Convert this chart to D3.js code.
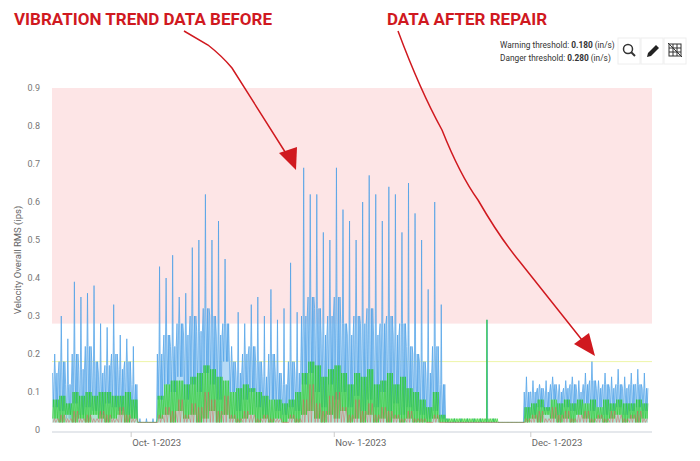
<!DOCTYPE html>
<html lang="en">
<head>
<meta charset="utf-8">
<title>Vibration trend</title>
<script src="https://d3js.org/d3.v7.min.js"></script>
<style>
body { margin: 0; background: #fff; }
text { font-family: Roboto, "Open Sans", sans-serif; }
</style>
</head>
<body>
<div id="chart"></div>
<script>
// daily values starting Sep 19 2023 (peak, body level and trough per day)
const startDay = new Date(2023, 8, 19);
const blueHi = [.20,.30,.24,.39,.35,.36,.38,.28,.27,.33,.25,.24,.22,
  .03,.03,.03,
  .43,.40,.46,.35,.36,.48,.50,.62,.50,.55,.45,.22,.31,.28,.33,.35,.30,.37,.29,.32,.44,.31,
  .69,.62,.62,.52,.50,.69,.58,.55,.50,.60,.67,.62,.55,.64,.62,.52,.65,.57,.50,.37,.60,.33,
  .03,.03,.03,.03,.03,.03,.29,.03,.02,.02,.02,.02,.14,
  .13,.12,.13,.14,.12,.13,.14,.13,.15,.18,.13,.15,.14,.16,.14,.15,.16,.15];
const blueMid = [.15,.18,.12,.20,.16,.22,.18,.15,.17,.20,.16,.18,.12,
  .02,.02,.02,
  .20,.25,.22,.28,.25,.30,.26,.32,.30,.25,.28,.18,.15,.20,.22,.18,.14,.20,.15,.12,.18,.15,
  .30,.35,.32,.25,.30,.35,.28,.25,.30,.28,.32,.25,.28,.30,.25,.28,.22,.20,.18,.15,.22,.12,
  .02,.02,.02,.02,.02,.02,.02,.02,.02,.02,.02,.02,.10,
  .10,.11,.10,.12,.10,.11,.12,.10,.12,.13,.11,.12,.11,.12,.11,.12,.12,.11];
const blueLo = [.06,.05,.03,.07,.04,.06,.05,.04,.07,.06,.05,.04,.03,
  .02,.02,.02,
  .08,.12,.10,.14,.08,.12,.10,.15,.12,.08,.18,.10,.05,.08,.10,.06,.04,.08,.05,.04,.06,.05,
  .12,.15,.10,.06,.12,.08,.10,.06,.09,.05,.08,.06,.10,.05,.07,.04,.06,.05,.04,.03,.05,.03,
  .02,.02,.02,.02,.02,.02,.02,.02,.02,.02,.02,.02,.03,
  .04,.06,.05,.08,.04,.06,.05,.04,.07,.05,.06,.04,.05,.06,.04,.05,.06,.05];
const greenHi = [.08,.09,.07,.10,.09,.10,.09,.10,.10,.09,.09,.10,.08,
  .02,.02,.02,
  .09,.12,.13,.13,.12,.14,.15,.17,.16,.14,.13,.10,.11,.12,.11,.10,.09,.08,.08,.07,.08,.10,
  .15,.18,.17,.14,.16,.17,.15,.12,.15,.14,.16,.12,.13,.15,.12,.14,.11,.10,.08,.06,.10,.04,
  .03,.03,.03,.03,.03,.03,.03,.03,.02,.02,.02,.02,.06,
  .07,.08,.06,.08,.07,.08,.07,.08,.07,.08,.06,.08,.07,.08,.07,.07,.08,.07];
const greenLo = [.03,.02,.04,.02,.03,.02,.04,.03,.02,.03,.04,.02,.03,
  .02,.02,.02,
  .03,.04,.02,.05,.03,.04,.02,.03,.05,.02,.04,.03,.02,.03,.04,.02,.03,.02,.03,.02,.03,.02,
  .04,.05,.03,.02,.04,.03,.05,.02,.03,.02,.04,.02,.03,.02,.03,.02,.03,.02,.02,.02,.03,.02,
  .02,.02,.02,.02,.02,.02,.02,.02,.02,.02,.02,.02,.02,
  .03,.02,.04,.03,.02,.03,.02,.04,.03,.02,.03,.02,.03,.04,.02,.03,.02,.03];
// single reading spike during the idle period
const spikeDates = [new Date(2023, 10, 24, 6), new Date(2023, 10, 24, 7), new Date(2023, 10, 24, 8)];
const spikeValues = [0.03, 0.29, 0.03];
const redHi = [.03,.04,.03,.05,.03,.04,.03,.05,.04,.03,.06,.04,.03,
  .02,.02,.02,
  .04,.06,.05,.08,.04,.07,.06,.10,.08,.05,.09,.04,.03,.05,.04,.03,.04,.03,.03,.02,.04,.03,
  .08,.12,.07,.05,.09,.10,.06,.04,.08,.05,.07,.04,.06,.05,.04,.03,.05,.03,.03,.02,.04,.02,
  .02,.02,.02,.02,.02,.02,.02,.02,.02,.02,.02,.02,.03,
  .04,.05,.03,.06,.04,.05,.03,.04,.05,.03,.04,.03,.05,.04,.03,.04,.05,.03];
const redLo = 0.02;
const yTicks = [0, .1, .2, .3, .4, .5, .6, .7, .8, .9];
const xTicks = [new Date(2023, 9, 1), new Date(2023, 10, 1), new Date(2023, 11, 1)];
const warning = 0.18, danger = 0.28;

const width = 700, height = 461;
const svg = d3.select("#chart").append("svg").attr("width", width).attr("height", height);

const x = d3.scaleTime()
  .domain([new Date(2023, 8, 18, 22), new Date(2023, 11, 19, 12)])
  .range([52, 652]);
const y = d3.scaleLinear().domain([0, 0.9]).range([430, 88]);

function at(i, frac) { return d3.timeHour.offset(startDay, Math.round((i + frac) * 24)); }
// several readings per day: body, spike, body, trough ...
function series(pattern) {
  const pts = [];
  for (let i = 0; i < blueHi.length; i++) {
    pattern.forEach(([frac, arr]) => pts.push({ t: at(i, frac), v: typeof arr === "number" ? arr : arr[i] }));
  }
  return pts;
}
const blue = series([[0, blueMid], [0.12, blueLo], [0.24, blueMid], [0.33, blueHi], [0.42, blueMid],
  [0.55, blueLo], [0.66, blueMid], [0.76, blueLo], [0.88, blueMid]]);
const green = series([[0, greenLo], [0.12, greenHi], [0.25, greenLo], [0.37, greenHi], [0.5, greenLo],
  [0.62, greenHi], [0.75, greenLo], [0.87, greenHi]]);
spikeDates.forEach((t, k) => green.push({ t: t, v: spikeValues[k] }));
green.sort((a, b) => a.t - b.t);
const red = series([[0.1, redLo], [0.3, redHi], [0.5, redLo], [0.8, redHi]]);

// danger band
svg.append("rect").attr("x", x.range()[0]).attr("width", x.range()[1] - x.range()[0])
  .attr("y", y(0.9)).attr("height", y(danger) - y(0.9)).attr("fill", "#fde5e6");
// warning line
svg.append("line").attr("x1", x.range()[0]).attr("x2", x.range()[1])
  .attr("y1", y(warning)).attr("y2", y(warning)).attr("stroke", "#eef5a8").attr("stroke-width", 1);

// axes
svg.append("g").selectAll("text").data(yTicks).join("text")
  .attr("x", 40).attr("y", d => y(d) + 3).attr("text-anchor", "end")
  .attr("font-size", 9).attr("fill", "#777").text(d => d === 0 ? "0" : d3.format(".1f")(d));
svg.append("line").attr("x1", 52).attr("x2", 652).attr("y1", 432).attr("y2", 432).attr("stroke", "#dde0e6").attr("stroke-width", 1.5);
const xg = svg.append("g").selectAll("g").data(xTicks).join("g").attr("transform", d => `translate(${x(d)},432)`);
xg.append("line").attr("y2", 5).attr("stroke", "#ccc");
xg.append("text").attr("y", 14).attr("x", 1).attr("font-size", 9.5).attr("fill", "#666")
  .text(d => d3.timeFormat("%b- ")(d) + d.getDate() + "-" + d.getFullYear());
svg.append("text").attr("transform", "translate(21,260) rotate(-90)").attr("text-anchor", "middle")
  .attr("font-size", 9.5).attr("fill", "#666").text("Velocity Overall RMS (ips)");

const area = d3.area().x(d => x(d.t)).y0(y(0.02)).y1(d => y(d.v));
const line = d3.line().x(d => x(d.t)).y(d => y(d.v));
svg.append("path").datum(blue).attr("d", area).attr("fill", "#a8d3f5").attr("opacity", 0.85);
svg.append("path").datum(blue).attr("d", line).attr("fill", "none").attr("stroke", "#4a9fe6").attr("stroke-width", 0.7);
svg.append("path").datum(green).attr("d", area).attr("fill", "#a6eba6").attr("opacity", 0.5);
svg.append("path").datum(green).attr("d", line).attr("fill", "none").attr("stroke", "#22cc22").attr("stroke-width", 0.6);
svg.append("path").datum(red).attr("d", line).attr("fill", "none").attr("stroke", "#e25a5a").attr("stroke-width", 0.6).attr("opacity", 0.8);

// threshold text
const th = svg.append("g").attr("font-size", 8.3).attr("fill", "#333");
th.append("text").attr("x", 500).attr("y", 48).html('Warning threshold: <tspan font-weight="bold">0.180</tspan> (in/s)');
th.append("text").attr("x", 500).attr("y", 61).html('Danger threshold: <tspan font-weight="bold">0.280</tspan> (in/s)');
// buttons
[618, 641, 664].forEach((bx, i) => {
  const b = svg.append("g").attr("transform", `translate(${bx},38)`);
  b.append("rect").attr("width", 22).attr("height", 26).attr("fill", "#fff").attr("stroke", "#eee");
  if (i === 0) {
    b.append("circle").attr("cx", 10).attr("cy", 11).attr("r", 4.5).attr("fill", "none").attr("stroke", "#333").attr("stroke-width", 1.5);
    b.append("line").attr("x1", 13).attr("y1", 14).attr("x2", 17).attr("y2", 18).attr("stroke", "#333").attr("stroke-width", 2);
  } else if (i === 1) {
    b.append("path").attr("d", "M6,19 L7,15 L15,7 L18,10 L10,18 Z").attr("fill", "#222");
  } else {
    const g = b.append("g").attr("stroke", "#333").attr("stroke-width", 1).attr("fill", "none");
    g.append("rect").attr("x", 5).attr("y", 6).attr("width", 12).attr("height", 12);
    [9, 13].forEach(p => {
      g.append("line").attr("x1", p).attr("x2", p).attr("y1", 6).attr("y2", 18);
      g.append("line").attr("y1", p + 1).attr("y2", p + 1).attr("x1", 5).attr("x2", 17);
    });
    g.append("line").attr("x1", 4).attr("y1", 5).attr("x2", 18).attr("y2", 19);
  }
});

// annotations
const red2 = "#d0191f";
svg.append("text").attr("x", 14).attr("y", 25).attr("font-size", 17).attr("font-weight", "bold")
  .attr("fill", red2).attr("font-family", "'Open Sans', sans-serif").text("VIBRATION TREND DATA BEFORE");
svg.append("text").attr("x", 387).attr("y", 25).attr("font-size", 17).attr("font-weight", "bold")
  .attr("fill", red2).attr("font-family", "'Open Sans', sans-serif").text("DATA AFTER REPAIR");
svg.append("path").attr("d", "M184,31 L208,45 Q222,56 232,68 L287,155").attr("fill", "none").attr("stroke", red2).attr("stroke-width", 1.5);
svg.append("path").attr("d", "M279,153 L297,147 L296,170 Z").attr("fill", red2);
svg.append("path").attr("d", "M398,31 Q420,90 442,130 Q460,175 478,200 Q500,238 520,262 L582,340").attr("fill", "none").attr("stroke", red2).attr("stroke-width", 1.5);
svg.append("path").attr("d", "M574,344 L589,333 L595,356 Z").attr("fill", red2);
</script>
</body>
</html>
